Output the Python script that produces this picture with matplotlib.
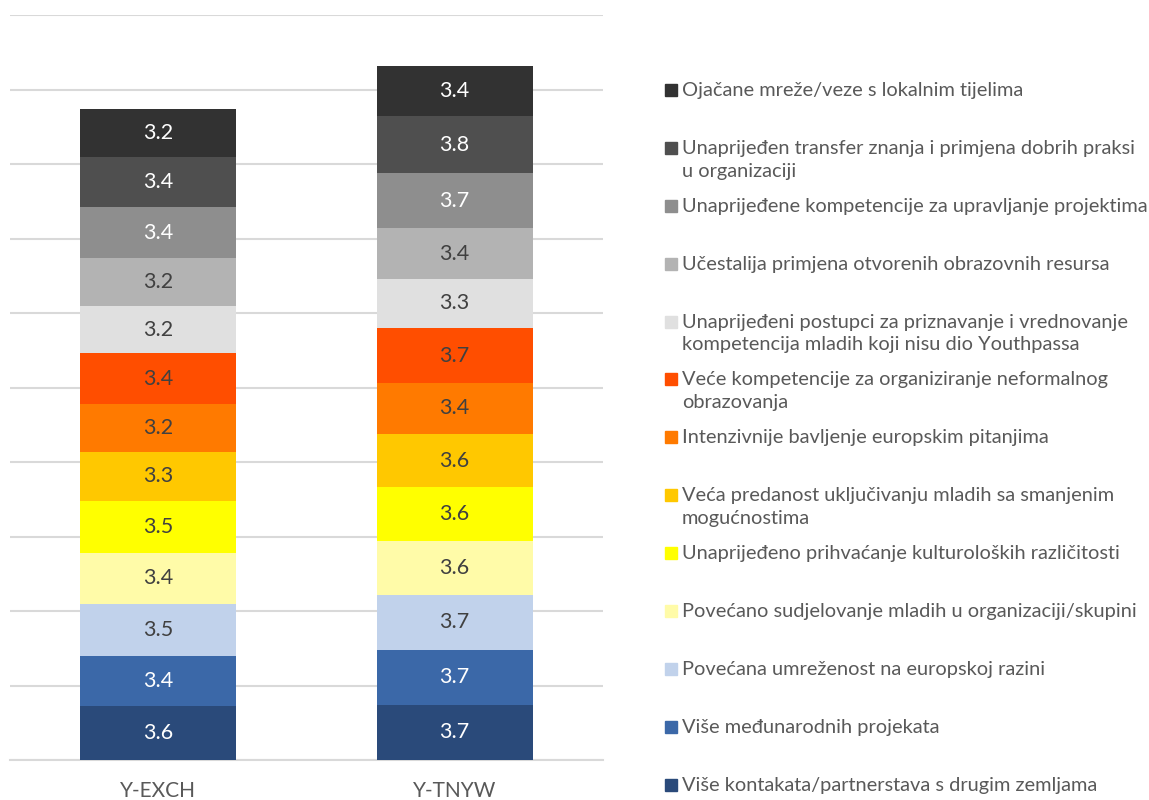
import numpy as np
import matplotlib.pyplot as plt
from matplotlib.patches import Rectangle

categories = ["Y-EXCH", "Y-TNYW"]

# series, bottom of the stack first
series_names = [
    "Više kontakata/partnerstava s drugim zemljama",
    "Više međunarodnih projekata",
    "Povećana umreženost na europskoj razini",
    "Povećano sudjelovanje mladih u organizaciji/skupini",
    "Unaprijeđeno prihvaćanje kulturoloških različitosti",
    "Veća predanost uključivanju mladih sa smanjenim\nmogućnostima",
    "Intenzivnije bavljenje europskim pitanjima",
    "Veće kompetencije za organiziranje neformalnog\nobrazovanja",
    "Unaprijeđeni postupci za priznavanje i vrednovanje\nkompetencija mladih koji nisu dio Youthpassa",
    "Učestalija primjena otvorenih obrazovnih resursa",
    "Unaprijeđene kompetencije za upravljanje projektima",
    "Unaprijeđen transfer znanja i primjena dobrih praksi\nu organizaciji",
    "Ojačane mreže/veze s lokalnim tijelima",
]
y_exch = [3.6, 3.4, 3.5, 3.4, 3.5, 3.3, 3.2, 3.4, 3.2, 3.2, 3.4, 3.4, 3.2]
y_tnyw = [3.7, 3.7, 3.7, 3.6, 3.6, 3.6, 3.4, 3.7, 3.3, 3.4, 3.7, 3.8, 3.4]

colors = ["#2A4A7A", "#3B68A8", "#C1D2EB", "#FFFBA8", "#FFFF00", "#FFC800",
          "#FF7A00", "#FF4E00", "#E0E0E0", "#B3B3B3", "#8E8E8E", "#4F4F4F", "#323232"]
label_colors = ["white", "white", "#404040", "#404040", "#404040", "#404040",
                "#404040", "#404040", "#404040", "#404040", "white", "white", "white"]

plt.rcParams["font.family"] = ["Lato", "DejaVu Sans"]

fig = plt.figure(figsize=(11.49, 8.0), dpi=100)
ax = fig.add_axes([0.0087, 0.05, 0.516, 0.931])

values = np.array([y_exch, y_tnyw]).T
x = np.arange(len(categories))
bottom = np.zeros(len(categories))
for i, name in enumerate(series_names):
    bars = ax.bar(x, values[i], 0.527, bottom=bottom, color=colors[i], zorder=3)
    ax.bar_label(bars, labels=[f"{v:.1f}" for v in values[i]], label_type="center",
                 color=label_colors[i], fontsize=15.5)
    bottom += values[i]

ax.set_xlim(-0.5, 1.5)
ax.set_ylim(0, 50)
ax.set_yticks(np.arange(0, 51, 5))
ax.yaxis.grid(True, color="#D9D9D9", linewidth=1.5, zorder=0)
ax.tick_params(axis="y", left=False, labelleft=False)
ax.tick_params(axis="x", length=0, pad=15, labelsize=15, labelcolor="#595959")
ax.set_xticks(x)
ax.set_xticklabels(categories)
for side in ["top", "right", "left"]:
    ax.spines[side].set_visible(False)
ax.spines["bottom"].set_color("#D9D9D9")
ax.spines["bottom"].set_linewidth(1.5)

# legend, top entry first, evenly spaced
n = len(series_names)
y_top = 1 - 90 / 800
step = 57.9 / 800
for k in range(n):
    i = n - 1 - k
    yc = y_top - k * step
    fig.patches.append(Rectangle((665 / 1149, yc - 6 / 800), 12 / 1149, 12 / 800,
                                 transform=fig.transFigure, color=colors[i]))
    fig.text(682 / 1149, yc + 8 / 800, series_names[i], ha="left", va="top",
             fontsize=14.4, color="#595959", linespacing=1.42)

fig.savefig("out.png", dpi=100)
